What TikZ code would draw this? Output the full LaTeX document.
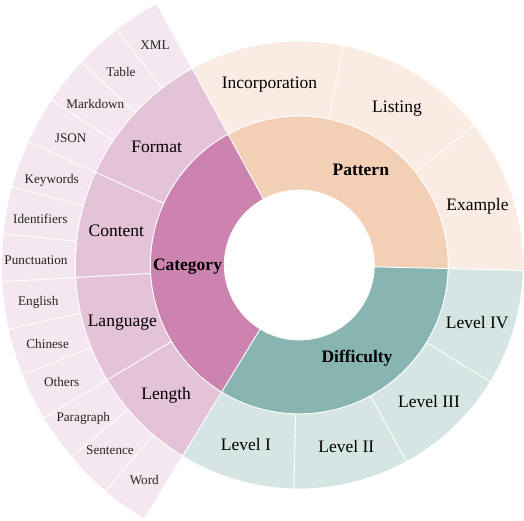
\documentclass[tikz,border=0pt]{standalone}
\usepackage{fontspec}
\setmainfont{Liberation Serif}
\definecolor{catA}{RGB}{204,131,175}
\definecolor{catB}{RGB}{228,194,216}
\definecolor{catC}{RGB}{244,231,239}
\definecolor{patA}{RGB}{243,207,181}
\definecolor{patB}{RGB}{251,236,227}
\definecolor{difA}{RGB}{136,181,177}
\definecolor{difB}{RGB}{213,229,227}
\newcommand{\sbsector}[5]{%
  \filldraw[sect, fill=#5] (#1:#3) arc[start angle=#1, end angle=#2, radius=#3]
    -- (#2:#4) arc[start angle=#2, end angle=#1, radius=#4] -- cycle;}
\tikzset{
  sect/.style={draw=white, line width=0.8pt, line join=round},
  lbl/.style={inner sep=0pt, yshift=-3pt, text height=0.68em, text depth=0.2em, font=\fontsize{17.5}{20}\selectfont},
  toplbl/.style={lbl, font=\fontsize{17.5}{20}\selectfont\bfseries},
  leaflbl/.style={lbl, yshift=0.5pt, text=black!85, font=\fontsize{13.2}{15}\selectfont},
}
\begin{document}
\begin{tikzpicture}[x=1pt,y=1pt]
\useasboundingbox (0,0) rectangle (524,520);
\begin{scope}[shift={(299.3,255)}]
  % inner ring
  \sbsector{-1.4}{118.6}{75pt}{149pt}{patA}
  \sbsector{118.6}{238.6}{75pt}{149pt}{catA}
  \sbsector{238.6}{358.6}{75pt}{149pt}{difA}
  % middle ring: Pattern
  \sbsector{-1.4}{38.6}{149pt}{224pt}{patB}
  \sbsector{38.6}{78.6}{149pt}{224pt}{patB}
  \sbsector{78.6}{118.6}{149pt}{224pt}{patB}
  % middle ring: Category
  \sbsector{118.6}{155.523}{149pt}{224pt}{catB}
  \sbsector{155.523}{183.215}{149pt}{224pt}{catB}
  \sbsector{183.215}{210.908}{149pt}{224pt}{catB}
  \sbsector{210.908}{238.6}{149pt}{224pt}{catB}
  % middle ring: Difficulty
  \sbsector{238.6}{268.6}{149pt}{224pt}{difB}
  \sbsector{268.6}{298.6}{149pt}{224pt}{difB}
  \sbsector{298.6}{328.6}{149pt}{224pt}{difB}
  \sbsector{328.6}{358.6}{149pt}{224pt}{difB}
  % outer ring: Category leaves
  \foreach \k in {0,...,12}{
    \pgfmathsetmacro{\aS}{118.6+\k*120/13}
    \pgfmathsetmacro{\aE}{118.6+(\k+1)*120/13}
    \sbsector{\aS}{\aE}{224pt}{298pt}{catC}
  }
\end{scope}
% inner labels
\node[toplbl] (category) at (187.5,255) {Category};
\node[toplbl] (pattern) at (360.8,350) {Pattern};
\node[toplbl] (difficulty) at (357,163.3) {Difficulty};
% middle labels
\node[lbl] (format) at (156.7,373.3) {Format};
\node[lbl] (content) at (116.3,289) {Content};
\node[lbl] (language) at (122.3,199) {Language};
\node[lbl] (length) at (166.2,125.7) {Length};
\node[lbl] (incorporation) at (269.5,436.7) {Incorporation};
\node[lbl] (listing) at (397,412.7) {Listing};
\node[lbl] (example) at (477.5,315) {Example};
\node[lbl] (lv4) at (477.2,196.7) {Level IV};
\node[lbl] (lv3) at (429,118.3) {Level III};
\node[lbl] (lv2) at (346.3,73.3) {Level II};
\node[lbl] (lv1) at (246,75) {Level I};
% leaf labels
\node[leaflbl] (xml) at (155,475) {XML};
\node[leaflbl] (table) at (121,448.3) {Table};
\node[leaflbl] (markdown) at (95.3,416) {Markdown};
\node[leaflbl] (json) at (70.7,382.7) {JSON};
\node[leaflbl] (keywords) at (51.7,341.7) {Keywords};
\node[leaflbl] (identifiers) at (40.3,301) {Identifiers};
\node[leaflbl] (punctuation) at (36,260.7) {Punctuation};
\node[leaflbl] (english) at (38.3,219) {English};
\node[leaflbl] (chinese) at (47.7,176.7) {Chinese};
\node[leaflbl] (others) at (61.7,138.3) {Others};
\node[leaflbl] (paragraph) at (83.3,103.3) {Paragraph};
\node[leaflbl] (sentence) at (110,70) {Sentence};
\node[leaflbl] (word) at (144.3,40.7) {Word};
\end{tikzpicture}
\end{document}
